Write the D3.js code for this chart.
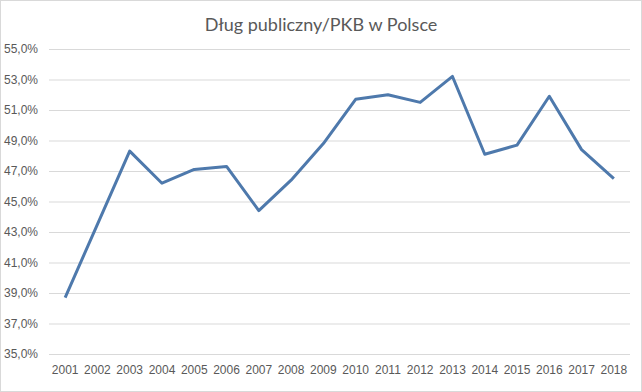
<!DOCTYPE html>
<meta charset="utf-8">
<script src="https://d3js.org/d3.v7.min.js"></script>
<style>
body { margin: 0; background: #fff; }
svg { display: block; font-family: Lato, "Open Sans", sans-serif; }
.tick text { fill: #595959; font-size: 12px; }
</style>
<body>
<script>
var years = ["2001","2002","2003","2004","2005","2006","2007","2008","2009",
  "2010","2011","2012","2013","2014","2015","2016","2017","2018"];
var debtRatio = [38.7, 43.5, 48.3, 46.2, 47.1, 47.3, 44.4, 46.4, 48.8,
  51.7, 52.0, 51.5, 53.2, 48.1, 48.7, 51.9, 48.4, 46.5];
var yTicks = [35, 37, 39, 41, 43, 45, 47, 49, 51, 53, 55];

var width = 642, height = 392;
var margin = {top: 49, right: 12, bottom: 38, left: 49};

var svg = d3.select("body").append("svg")
  .attr("width", width)
  .attr("height", height);

svg.append("rect")
  .attr("x", 0.5).attr("y", 0.5)
  .attr("width", width - 1).attr("height", height - 1)
  .attr("fill", "#fff")
  .attr("stroke", "#d9d9d9");

var x = d3.scaleBand()
  .domain(years)
  .range([margin.left, width - margin.right]);

var y = d3.scaleLinear()
  .domain([35, 55])
  .range([height - margin.bottom, margin.top]);

// gridlines + y labels
var yAxis = svg.append("g")
  .attr("transform", "translate(" + margin.left + ",0)")
  .call(d3.axisLeft(y)
    .tickValues(yTicks)
    .tickSize(-(width - margin.left - margin.right))
    .tickPadding(11)
    .tickFormat(function(d) { return d.toFixed(1).replace(".", ",") + "%"; }));
yAxis.select(".domain").remove();
yAxis.selectAll(".tick line").attr("stroke", "#d9d9d9");

// x labels
var xAxis = svg.append("g")
  .attr("transform", "translate(0," + (height - margin.bottom) + ")")
  .call(d3.axisBottom(x).tickSize(0).tickPadding(11));
xAxis.select(".domain").remove();

var line = d3.line()
  .x(function(d, i) { return x(years[i]) + x.bandwidth() / 2; })
  .y(function(d) { return y(d); });

svg.append("path")
  .datum(debtRatio)
  .attr("d", line)
  .attr("fill", "none")
  .attr("stroke", "#4e79ac")
  .attr("stroke-width", 3)
  .attr("stroke-linejoin", "round");

svg.append("text")
  .attr("x", width / 2)
  .attr("y", 31)
  .attr("text-anchor", "middle")
  .attr("fill", "#595959")
  .style("font-size", "18px")
  .text("Dług publiczny/PKB w Polsce");
</script>
</body>
